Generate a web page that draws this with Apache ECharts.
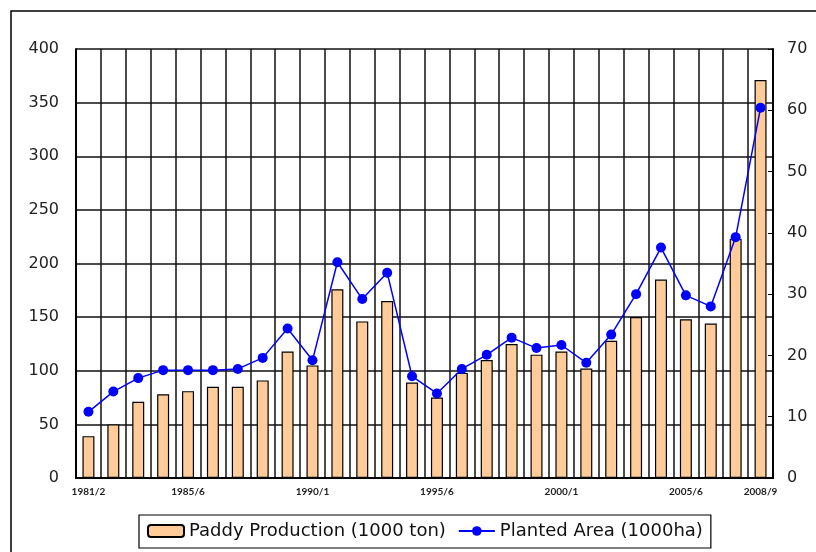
<!DOCTYPE html>
<html>
<head>
<meta charset="utf-8">
<script src="https://cdn.jsdelivr.net/npm/echarts@6/dist/echarts.min.js"></script>
<style>
  html, body { margin: 0; padding: 0; background: #fff; }
  #chart { width: 816px; height: 552px; }
</style>
</head>
<body>
<div id="chart"></div>
<script>
// crop years, 1981/2 .. 2008/9
const years = [
    '1981/2', '1982/3', '1983/4', '1984/5', '1985/6', '1986/7', '1987/8',
    '1988/9', '1989/0', '1990/1', '1991/2', '1992/3', '1993/4', '1994/5',
    '1995/6', '1996/7', '1997/8', '1998/9', '1999/0', '2000/1', '2001/2',
    '2002/3', '2003/4', '2004/5', '2005/6', '2006/7', '2007/8', '2008/9'
];
const shownLabels = [0, 4, 9, 14, 19, 24, 27];

const paddyProduction = [
    39, 50, 71, 78, 81, 85, 85, 91, 118, 105, 176, 146, 165, 89,
    75, 98, 110, 125, 115, 118, 102, 128, 150, 185, 148, 144, 223, 371
];
const plantedArea = [
    10.8, 14.1, 16.3, 17.6, 17.6, 17.6, 17.8, 19.6, 24.4, 19.2, 35.2, 29.2, 33.5, 16.6,
    13.8, 17.8, 20.1, 22.9, 21.2, 21.7, 18.8, 23.4, 30.0, 37.6, 29.8, 28.0, 39.3, 60.4
];

const wideFont = '"DejaVu Sans", sans-serif';
const chart = echarts.init(document.getElementById('chart'));

chart.setOption({
    animation: false,
    textStyle: { fontFamily: wideFont },
    graphic: [{
        type: 'rect',
        shape: { x: 11, y: 11, width: 900, height: 600 },
        style: { fill: 'none', stroke: '#000', lineWidth: 1.5 },
        z: -1
    }],
    grid: { left: 76, right: 43, top: 49, bottom: 74 },
    legend: {
        left: 139,
        top: 515,
        itemGap: 12,
        padding: [7, 8, 8, 8],
        borderColor: '#000',
        borderWidth: 1.2,
        itemWidth: 36,
        itemHeight: 12,
        textStyle: { fontSize: 18, color: '#111', fontFamily: wideFont },
        data: ['Paddy Production (1000 ton)', 'Planted Area (1000ha)']
    },
    xAxis: {
        type: 'category',
        data: years,
        axisLine: { lineStyle: { color: '#000', width: 2 } },
        axisTick: { show: false },
        axisLabel: {
            interval: function (index) {
                return shownLabels.indexOf(index) !== -1;
            },
            fontFamily: 'Lato, sans-serif',
            fontSize: 10,
            fontWeight: 'bold',
            color: '#222',
            margin: 9
        },
        splitLine: {
            show: true,
            interval: 0,
            lineStyle: { color: '#111', width: 1.5 }
        }
    },
    yAxis: [{
        type: 'value',
        min: 0,
        max: 400,
        interval: 50,
        axisLine: { show: true, lineStyle: { color: '#000', width: 2 } },
        axisTick: { show: false },
        axisLabel: { fontSize: 16, color: '#222', margin: 17 },
        splitLine: { lineStyle: { color: '#111', width: 1.5 } }
    }, {
        type: 'value',
        min: 0,
        max: 70,
        interval: 10,
        axisLine: { show: true, lineStyle: { color: '#000', width: 2 } },
        axisTick: { show: true, inside: true, length: 5, lineStyle: { color: '#000' } },
        axisLabel: { fontSize: 16, color: '#222', margin: 14 },
        splitLine: { show: false }
    }],
    series: [{
        name: 'Paddy Production (1000 ton)',
        type: 'bar',
        yAxisIndex: 0,
        data: paddyProduction,
        barWidth: 12,
        itemStyle: { color: '#FFCC99', borderColor: '#000', borderWidth: 1.2 }
    }, {
        name: 'Planted Area (1000ha)',
        type: 'line',
        yAxisIndex: 1,
        data: plantedArea,
        symbol: 'circle',
        symbolSize: 10,
        lineStyle: { color: '#0000FF', width: 1.5 },
        itemStyle: { color: '#0000FF' },
        z: 3
    }]
});
</script>
</body>
</html>
